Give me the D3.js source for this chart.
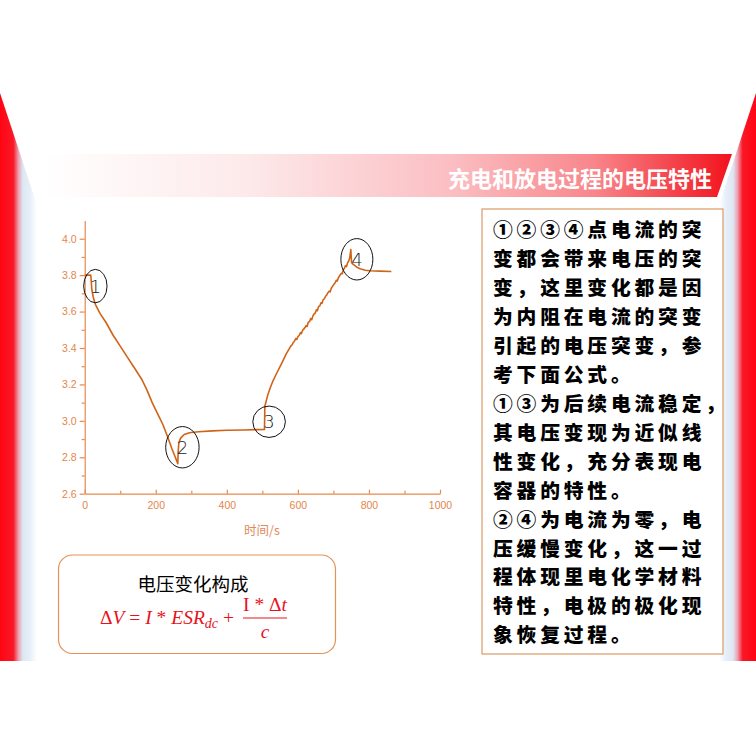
<!DOCTYPE html>
<html><head><meta charset="utf-8">
<script src="https://cdn.jsdelivr.net/npm/d3@7/dist/d3.min.js"></script>
<style>body{margin:0;background:#fff}svg{display:block}</style>
</head><body>
<svg id="c" width="756" height="756"></svg>
<script>
// ---- data ----
const timeS = [0,17,18,20,24,30,43,60,80,100,120,140,160,175,190,205,220,232,245,255,262,
  263,265,270,280,295,320,360,400,450,480,506,
  507,515,522,530,540,553,568,
  580,584,587,590,594,597,600,604,607,610,613,617,620,623,626,629,633,636,639,642,646,649,652,655,658,662,665,668,671,675,678,681,684,688,691,694,698,701,705,708,711,714,718,722,725,728,731,734,737,740,743,746,749,
  751,755,765,775,790,803,830,863];
const voltage = [3.80,3.80,3.78,3.72,3.68,3.64,3.59,3.54,3.47,3.41,3.35,3.29,3.23,3.17,3.10,3.04,2.98,2.92,2.85,2.80,2.765,
  2.83,2.88,2.905,2.925,2.935,2.94,2.945,2.948,2.95,2.952,2.953,
  3.08,3.14,3.18,3.22,3.26,3.31,3.37,
  3.41,3.418,3.43,3.436,3.452,3.447,3.462,3.47,3.484,3.479,3.496,3.505,3.512,3.522,3.518,3.54,3.546,3.562,3.555,3.575,3.588,3.592,3.61,3.605,3.626,3.632,3.648,3.645,3.664,3.672,3.684,3.69,3.702,3.712,3.708,3.728,3.74,3.748,3.758,3.772,3.768,3.786,3.798,3.81,3.808,3.83,3.838,3.852,3.847,3.868,3.878,3.895,3.94,
  3.87,3.86,3.845,3.835,3.827,3.824,3.822,3.82];
const xTicks = [0,200,400,600,800,1000];
const xMinor = [100,300,500,700,900];
const yTicks = [2.6,2.8,3.0,3.2,3.4,3.6,3.8,4.0];
const yMinor = [2.7,2.9,3.1,3.3,3.5,3.7,3.9];
const markLabels = ["1","2","3","4"];
const markT = [30,275,519,766];
const markV = [3.74,2.855,2.995,3.887];
const titleText = "充电和放电过程的电压特性";
const xAxisTitle = "时间/s";
const noteLines = ["①②③④点电流的突","变都会带来电压的突","变，这里变化都是因","为内阻在电流的突变","引起的电压突变，参","考下面公式。","①③为后续电流稳定，","其电压变现为近似线","性变化，充分表现电","容器的特性。","②④为电流为零，电","压缓慢变化，这一过","程体现里电化学材料","特性，电极的极化现","象恢复过程。"];
const formulaTitle = "电压变化构成";

// ---- drawing ----
const svg = d3.select("#c");
const defs = svg.append("defs");
function grad(id, x1, x2, stops){
  const g = defs.append("linearGradient").attr("id", id).attr("gradientUnits","userSpaceOnUse")
    .attr("x1",x1).attr("x2",x2).attr("y1",0).attr("y2",0);
  stops.forEach(s=>g.append("stop").attr("offset",s[0]).attr("stop-color",s[1]));
}
const sideStops = [[0,"#ff0514"],[0.36,"#f91826"],[0.5,"#eea0b0"],[0.62,"#dde8f4"],[0.8,"#e6eef8"],[1,"#ffffff"]];
grad("gL",0,37,sideStops);
grad("gR",756,719,sideStops);
grad("gBar",42,732,[[0,"#ffffff"],[0.3,"#fde9ea"],[0.6,"#fbbdc1"],[0.8,"#f8868b"],[1,"#f2121c"]]);

svg.append("polygon").attr("points","0,93 37,205 37,661 0,661").attr("fill","url(#gL)");
svg.append("polygon").attr("points","756,93 719,205 719,661 756,661").attr("fill","url(#gR)");

// header bar
svg.append("polygon").attr("points","42,154 732,154 717,197 42,197").attr("fill","url(#gBar)");
svg.append("text").attr("x",712).attr("y",177).attr("text-anchor","end").attr("dominant-baseline","central")
  .attr("font-family","'Noto Sans CJK SC'").attr("font-weight","bold").attr("font-size",22)
  .attr("fill","#fff").text(titleText);

// chart
const x = d3.scaleLinear().domain([0,1000]).range([84.7,440]);
const y = d3.scaleLinear().domain([2.6,4.1]).range([493.7,220.5]);
const axisColor = "#e8894d", labelColor = "#e3864c";
const g = svg.append("g");

g.append("g").attr("transform",`translate(${x(0)},0)`)
  .call(d3.axisLeft(y).tickValues(yTicks).tickFormat(d3.format(".1f")).tickSize(5).tickSizeOuter(0).tickPadding(3));
g.append("g").attr("transform",`translate(${x(0)},0)`)
  .call(d3.axisLeft(y).tickValues(yMinor).tickFormat("").tickSize(3).tickSizeOuter(0)).select(".domain").remove();
g.append("g").attr("transform",`translate(0,${y(2.6)})`)
  .call(d3.axisBottom(x).tickValues(xTicks).tickFormat(d3.format("d")).tickSize(-4).tickSizeOuter(0).tickPadding(8));
g.append("g").attr("transform",`translate(0,${y(2.6)})`)
  .call(d3.axisBottom(x).tickValues(xMinor).tickFormat("").tickSize(-3).tickSizeOuter(0)).select(".domain").remove();
g.selectAll(".domain, .tick line").attr("stroke",axisColor).attr("stroke-width",1.2);
g.selectAll(".tick text").attr("fill",labelColor).attr("font-family","'Liberation Sans'").attr("font-size",10.5);

g.append("text").attr("x",262).attr("y",529).attr("text-anchor","middle").attr("dominant-baseline","central")
  .attr("font-family","'Noto Sans CJK SC'").attr("font-size",12.5).attr("fill","#e0895a").text(xAxisTitle);

const pts = timeS.map((t,i)=>[t,voltage[i]]);
g.append("path").datum(pts).attr("fill","none").attr("stroke","#cf6418").attr("stroke-width",1.6)
  .attr("stroke-linejoin","round")
  .attr("d", d3.line().x(d=>x(d[0])).y(d=>y(d[1])));

// annotation ellipses
const rx = [11.7,16.7,16.3,16], ry = [16.7,20.7,15.7,20.7];
markLabels.forEach((lab,i)=>{
  g.append("ellipse").attr("cx",x(markT[i])).attr("cy",y(markV[i])).attr("rx",rx[i]).attr("ry",ry[i])
    .attr("fill","none").attr("stroke","#111").attr("stroke-width",1);
  g.append("text").attr("x",x(markT[i])).attr("y",y(markV[i])).attr("text-anchor","middle").attr("dominant-baseline","central")
    .attr("font-family","'DejaVu Sans'").attr("font-weight","300").attr("font-size",18).attr("fill","#222").text(lab);
});

// note box
svg.append("rect").attr("x",482).attr("y",209).attr("width",241).attr("height",445)
  .attr("fill","#fff").attr("stroke","#d99a66").attr("stroke-width",1.2);
const note = svg.append("text").attr("font-family","'Noto Sans CJK SC'").attr("font-weight","900")
  .attr("font-size",19.8).attr("letter-spacing",3.8).attr("fill","#000");
noteLines.forEach((ln,i)=>{
  note.append("tspan").attr("x",493).attr("y",237.3+i*28.93).text(ln);
});

// formula box
svg.append("rect").attr("x",58.5).attr("y",555).attr("width",277).attr("height",98.5).attr("rx",14)
  .attr("fill","#fff").attr("stroke","#e39158").attr("stroke-width",1.2);
svg.append("text").attr("x",193).attr("y",583).attr("text-anchor","middle").attr("dominant-baseline","central")
  .attr("font-family","'Noto Sans CJK SC'").attr("font-size",18.5).attr("fill","#000").text(formulaTitle);
const red = "#e8121c";
const ft = svg.append("text").attr("x",100).attr("y",624).attr("font-family","'Liberation Serif'")
  .attr("font-size",19.5).attr("fill",red);
ft.append("tspan").text("Δ");
ft.append("tspan").attr("font-style","italic").text("V");
ft.append("tspan").text(" = ");
ft.append("tspan").attr("font-style","italic").text("I");
ft.append("tspan").text(" * ");
ft.append("tspan").attr("font-style","italic").text("ESR");
ft.append("tspan").attr("font-style","italic").attr("font-size",14).attr("dy",4).text("dc");
ft.append("tspan").attr("dy",-4).text(" + ");
const endX = 100 + ft.node().getComputedTextLength();
const fx0 = Math.max(endX+2, 243), fx1 = fx0+44, fc = (fx0+fx1)/2;
svg.append("line").attr("x1",fx0).attr("x2",fx1).attr("y1",618).attr("y2",618).attr("stroke",red).attr("stroke-width",1);
const nt = svg.append("text").attr("x",fc).attr("y",611).attr("text-anchor","middle")
  .attr("font-family","'Liberation Serif'").attr("font-size",19.5).attr("fill",red);
nt.append("tspan").text("I * Δ");
nt.append("tspan").attr("font-style","italic").text("t");
svg.append("text").attr("x",fc).attr("y",638).attr("text-anchor","middle")
  .attr("font-family","'Liberation Serif'").attr("font-style","italic").attr("font-size",19.5).attr("fill",red).text("c");
</script>
</body></html>
